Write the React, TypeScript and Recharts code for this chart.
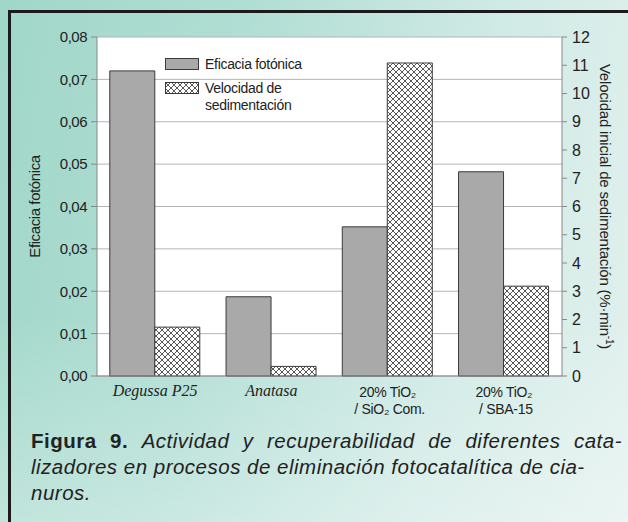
import { BarChart, Bar, XAxis, YAxis, CartesianGrid } from "recharts";

const categories = ["Degussa P25", "Anatasa", "20% TiO₂ / SiO₂ Com.", "20% TiO₂ / SBA-15"];
const eficacia = [0.072, 0.0187, 0.0352, 0.0482];
const velocidad = [1.73, 0.34, 11.08, 3.18];
const leftTicks = [0, 0.01, 0.02, 0.03, 0.04, 0.05, 0.06, 0.07, 0.08];
const leftMinorTicks = [0.005, 0.015, 0.025, 0.035, 0.045, 0.055, 0.065, 0.075];
const rightTicks = [0, 1, 2, 3, 4, 5, 6, 7, 8, 9, 10, 11, 12];
const rightMinorTicks = [0.5, 1.5, 2.5, 3.5, 4.5, 5.5, 6.5, 7.5, 8.5, 9.5, 10.5, 11.5];
const seriesNames = ["Eficacia fotónica", "Velocidad de sedimentación"];

const data = categories.map((name, i) => ({
  name,
  eficacia: eficacia[i],
  velocidad: velocidad[i],
}));

const SANS = "'Liberation Sans', Arial, sans-serif";
const SERIF = "'Liberation Serif', 'Times New Roman', serif";
const INK = "#222";
const BAR_GRAY = "#a9a9a9";
const BAR_EDGE = "#3a3a3a";

function CategoryTick({ x, y, payload }: any) {
  const label: string = payload.value;
  if (!label.includes("/")) {
    return (
      <text x={x} y={y + 12} textAnchor="middle" fontFamily={SERIF} fontStyle="italic" fontSize={16} fill={INK}>
        {label}
      </text>
    );
  }
  const [first, rest] = label.split(" / ");
  return (
    <text textAnchor="middle" fontFamily={SANS} fontSize={14} fill={INK} letterSpacing={-0.3}>
      <tspan x={x} y={y + 13}>{first}</tspan>
      <tspan x={x + 2} y={y + 30}>{"/ " + rest}</tspan>
    </text>
  );
}

// legend sits inside the plot, top-left, so draw it outside the chart layout
function LegendBox() {
  return (
    <div
      style={{
        position: "absolute",
        left: 165,
        top: 56,
        fontFamily: SANS,
        fontSize: 14,
        color: INK,
        letterSpacing: -0.3,
      }}
    >
      {seriesNames.map((name, i) => (
        <div key={name} style={{ display: "flex", alignItems: "flex-start", marginBottom: 7 }}>
          <svg width={34} height={14} style={{ flex: "none", marginTop: 2 }}>
            <rect
              x={0.5}
              y={0.5}
              width={33}
              height={11}
              fill={i === 0 ? BAR_GRAY : "url(#crosshatch)"}
              stroke={BAR_EDGE}
            />
          </svg>
          <div style={{ marginLeft: 6, width: 105, lineHeight: "17px" }}>{name}</div>
        </div>
      ))}
    </div>
  );
}

export default function App() {
  return (
    <div
      style={{
        position: "absolute",
        left: 0,
        top: 0,
        width: 628,
        height: 522,
        overflow: "hidden",
        background:
          "linear-gradient(to bottom, rgba(255,255,255,0) 60%, rgba(255,255,255,0.3) 100%), linear-gradient(100deg, #a0d7c8 0%, #b1ded4 35%, #d0eae5 70%, #e2f1ee 100%)",
      }}
    >
      <svg width={0} height={0} style={{ position: "absolute" }}>
        <defs>
          <pattern id="crosshatch" width={6} height={6} patternUnits="userSpaceOnUse">
            <rect width={6} height={6} fill="#fff" />
            <path d="M0,0 L6,6 M6,0 L0,6" stroke="#444" strokeWidth={0.9} />
          </pattern>
        </defs>
      </svg>
      <div
        style={{
          position: "absolute",
          left: 8,
          top: 10,
          width: 700,
          height: 600,
          border: "3px solid #1b1b1b",
        }}
      />
      <div style={{ position: "absolute", left: 0, top: 0 }}>
        <BarChart
          width={628}
          height={522}
          data={data}
          margin={{ top: 37, right: 26, bottom: 96, left: 37 }}
          barCategoryGap="11%"
          barGap={0}
        >
          <CartesianGrid yAxisId="left" vertical={false} stroke="#b4b4b4" fill="#fff" fillOpacity={1} />
          <XAxis
            dataKey="name"
            height={50}
            tickLine={false}
            axisLine={{ stroke: "#888" }}
            tick={<CategoryTick />}
            interval={0}
          />
          <YAxis
            yAxisId="leftMinor"
            orientation="left"
            width={0}
            domain={[0, 0.08]}
            ticks={leftMinorTicks}
            interval={0}
            tick={false}
            tickSize={3}
            axisLine={false}
            tickLine={{ stroke: "#888" }}
          />
          <YAxis
            yAxisId="left"
            orientation="left"
            width={60}
            domain={[0, 0.08]}
            ticks={leftTicks}
            interval={0}
            tickFormatter={(v: number) => v.toFixed(2).replace(".", ",")}
            tickSize={6}
            tickMargin={4}
            axisLine={{ stroke: "#888" }}
            tickLine={{ stroke: "#888" }}
            tick={{ fill: INK, fontSize: 15, fontFamily: SANS, letterSpacing: -0.5 }}
            label={({ viewBox }: any) => {
              const cx = viewBox.x + 3;
              const cy = viewBox.y + viewBox.height / 2;
              return (
                <text
                  x={cx}
                  y={cy}
                  transform={`rotate(-90, ${cx}, ${cy})`}
                  textAnchor="middle"
                  fontFamily={SANS}
                  fontSize={15}
                  letterSpacing={-0.4}
                  fill={INK}
                >
                  Eficacia fotónica
                </text>
              );
            }}
          />
          <YAxis
            yAxisId="rightMinor"
            orientation="right"
            width={0}
            domain={[0, 12]}
            ticks={rightMinorTicks}
            interval={0}
            tick={false}
            tickSize={3}
            axisLine={false}
            tickLine={{ stroke: "#888" }}
          />
          <YAxis
            yAxisId="right"
            orientation="right"
            width={40}
            domain={[0, 12]}
            ticks={rightTicks}
            interval={0}
            tickSize={5}
            tickMargin={5}
            axisLine={{ stroke: "#888" }}
            tickLine={{ stroke: "#888" }}
            tick={{ fill: INK, fontSize: 16, fontFamily: SANS }}
            label={({ viewBox }: any) => {
              const cx = viewBox.x + 38;
              const cy = viewBox.y + viewBox.height / 2;
              return (
                <text
                  x={cx}
                  y={cy}
                  transform={`rotate(90, ${cx}, ${cy})`}
                  textAnchor="middle"
                  fontFamily={SANS}
                  fontSize={15}
                  letterSpacing={-0.2}
                  fill={INK}
                >
                  Velocidad inicial de sedimentación (%·min
                  <tspan dy={-6} fontSize={10}>-1</tspan>
                  <tspan dy={6}>)</tspan>
                </text>
              );
            }}
          />
          <Bar
            yAxisId="left"
            dataKey="eficacia"
            name={seriesNames[0]}
            fill={BAR_GRAY}
            stroke={BAR_EDGE}
            strokeWidth={1}
            isAnimationActive={false}
          />
          <Bar
            yAxisId="right"
            dataKey="velocidad"
            name={seriesNames[1]}
            fill="url(#crosshatch)"
            stroke={BAR_EDGE}
            strokeWidth={1}
            isAnimationActive={false}
          />
        </BarChart>
      </div>
      <LegendBox />
      <div
        style={{
          position: "absolute",
          left: 31,
          top: 428,
          width: 591,
          fontFamily: SANS,
          fontSize: 20.5,
          letterSpacing: 0.5,
          lineHeight: "26px",
          color: INK,
        }}
      >
        <div style={{ textAlign: "justify", textAlignLast: "justify" }}>
          <b>Figura 9.</b> <i>Actividad y recuperabilidad de diferentes cata-</i>
        </div>
        <div style={{ whiteSpace: "nowrap" }}>
          <i>lizadores en procesos de eliminación fotocatalítica de cia-</i>
        </div>
        <div>
          <i>nuros.</i>
        </div>
      </div>
    </div>
  );
}
